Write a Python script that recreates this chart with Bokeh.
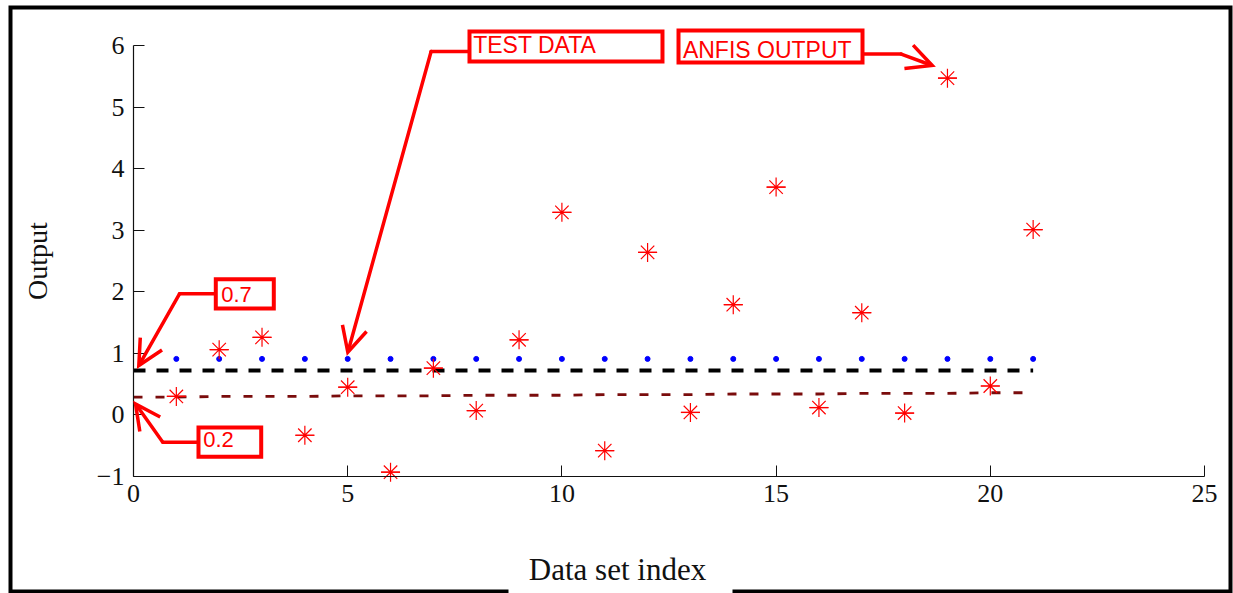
from bokeh.plotting import figure
from bokeh.models import Range1d, BoxAnnotation, Label, Arrow, OpenHead
from bokeh.embed import file_html
from bokeh.resources import INLINE

# ---------------- data ----------------
index = [1, 2, 3, 4, 5, 6, 7, 8, 9, 10, 11, 12, 13, 14, 15, 16, 17, 18, 19, 20, 21]
anfis_output = [0.30, 1.06, 1.26, -0.33, 0.45, -0.93, 0.76, 0.07, 1.22, 3.29, -0.58,
                2.64, 0.04, 1.79, 3.70, 0.12, 1.66, 0.03, 5.47, 0.47, 3.01]
test_data = [0.91, 0.91, 0.91, 0.91, 0.91, 0.91, 0.91, 0.91, 0.91, 0.91, 0.91,
             0.91, 0.91, 0.91, 0.91, 0.91, 0.91, 0.91, 0.91, 0.91, 0.91]
line_index = [0, 1, 2, 3, 4, 5, 6, 7, 8, 9, 10, 11, 12, 13, 14, 15, 16, 17, 18, 19, 20, 21]
level_07 = [0.72, 0.72, 0.72, 0.72, 0.72, 0.72, 0.72, 0.72, 0.72, 0.72, 0.72,
            0.72, 0.72, 0.72, 0.72, 0.72, 0.72, 0.72, 0.72, 0.72, 0.72, 0.72]
level_02 = [0.29, 0.29, 0.30, 0.30, 0.30, 0.31, 0.31, 0.31, 0.32, 0.32, 0.32,
            0.33, 0.33, 0.33, 0.34, 0.34, 0.34, 0.35, 0.35, 0.35, 0.36, 0.36]
x_ticks = [0, 5, 10, 15, 20, 25]
y_ticks = [-1, 0, 1, 2, 3, 4, 5, 6]
x_title = "Data set index"
y_title = "Output"

SERIF = "Liberation Serif"
SANS = "Liberation Sans"
RED = "#ff0000"

W, H = 1233, 593
# axes box in canvas pixels: x 0..25 -> 133..1204, y -1..6 -> 476..45
X0, X1, Y_TOP, Y_BOT = 133.0, 1204.0, 45.0, 476.0
sx = (X1 - X0) / 25.0
sy = (Y_BOT - Y_TOP) / 7.0
x_range = Range1d(0 - X0 / sx, 25 + (W - X1) / sx)
y_range = Range1d(-1 - (H - Y_BOT) / sy, 6 + Y_TOP / sy)

p = figure(width=W, height=H, output_backend="svg", toolbar_location=None,
           x_range=x_range, y_range=y_range,
           min_border_left=0, min_border_right=0, min_border_top=0, min_border_bottom=0)
p.outline_line_color = None
p.grid.visible = False
p.background_fill_color = "white"
p.border_fill_color = "white"

for ax in (p.xaxis[0], p.yaxis[0]):
    ax.axis_line_color = "#111111"
    ax.axis_line_width = 1.2
    ax.major_tick_line_color = "#111111"
    ax.major_tick_in = 11
    ax.major_tick_out = 0
    ax.minor_tick_line_color = None
    ax.major_label_text_font = SERIF
    ax.major_label_text_font_size = "26px"
    ax.major_label_text_color = "#111111"

p.xaxis.ticker = x_ticks
p.yaxis.ticker = y_ticks
p.xaxis.bounds = (0, 25)
p.yaxis.bounds = (-1, 6)
p.xaxis.fixed_location = -1
p.yaxis.fixed_location = 0
p.xaxis.major_label_standoff = 8
p.yaxis.major_label_standoff = 9
p.yaxis.axis_label = y_title
p.yaxis.axis_label_text_font = SERIF
p.yaxis.axis_label_text_font_size = "28px"
p.yaxis.axis_label_text_font_style = "normal"
p.yaxis.axis_label_text_color = "#111111"
p.yaxis.axis_label_standoff = 41

# ---------------- data marks ----------------
p.line(line_index, level_07, line_color="black", line_width=4, line_dash="12 11")
p.line(line_index, level_02, line_color="#7a0c0c", line_width=2.8, line_dash="9 13")
p.scatter(index, test_data, marker="circle", size=5, fill_color="#0000ff", line_color="#0000ff")
p.scatter(index, anfis_output, marker="asterisk", size=19, line_color=RED, line_width=1.2)
p.scatter(index, anfis_output, marker="dash", size=19, line_color=RED, line_width=1.2)

# ---------------- outer frame (screen units from canvas bottom-left) ----------------
def sbox(l, r, t, b, **kw):
    p.add_layout(BoxAnnotation(left=l, right=r, top=H - t, bottom=H - b,
                               left_units="screen", right_units="screen",
                               top_units="screen", bottom_units="screen",
                               line_join="miter", **kw))

sbox(10, 1230, 7, 591, fill_alpha=0, line_color="black", line_alpha=1, line_width=4)
sbox(508, 732, 548, 600, fill_color="white", fill_alpha=1, line_alpha=0)
p.add_layout(Label(x=617, y=H - 569, x_units="screen", y_units="screen", text=x_title,
                   text_font=SERIF, text_font_size="31px", text_color="#111111",
                   text_align="center", text_baseline="alphabetic"))

# ---------------- call-outs ----------------
def seg(x0, y0, x1, y1, head=False):
    end = OpenHead(size=25, line_color=RED, line_width=3.5, line_join="miter") if head else None
    p.add_layout(Arrow(x_start=x0, y_start=y0, x_end=x1, y_end=y1, start=None, end=end,
                       line_color=RED, line_width=3.5, line_cap="round"))

def callout(left, right, top, bottom, text, tx, ty, size):
    p.add_layout(BoxAnnotation(left=left, right=right, top=top, bottom=bottom,
                               fill_color="white", fill_alpha=1, line_join="miter",
                               line_color=RED, line_alpha=1, line_width=4))
    p.add_layout(Label(x=tx, y=ty, text=text, text_font=SANS, text_font_size=size,
                       text_color=RED, text_align="left", text_baseline="alphabetic"))

# TEST DATA
seg(7.84, 5.902, 6.947, 5.902)
seg(6.947, 5.902, 5.003, 1.018, head=True)
callout(7.843, 12.348, 6.227, 5.740, "TEST DATA", 7.93, 6.005, "23px")
# ANFIS OUTPUT
seg(17.017, 5.861, 17.92, 5.861)
seg(17.92, 5.861, 18.644, 5.675, head=True)
callout(12.722, 17.017, 6.243, 5.723, "ANFIS OUTPUT", 12.824, 5.935, "23px")
# 0.7
seg(1.921, 1.967, 1.074, 1.967)
seg(1.074, 1.967, 0.124, 0.802, head=True)
callout(1.921, 3.275, 2.204, 1.728, "0.7", 2.047, 1.960, "22px")
# 0.2
seg(1.517, -0.443, 0.684, -0.443)
seg(0.684, -0.443, 0.047, 0.180, head=True)
callout(1.517, 2.981, -0.205, -0.681, "0.2", 1.627, -0.404, "22px")

open("out.html", "w").write(file_html(p, INLINE))
